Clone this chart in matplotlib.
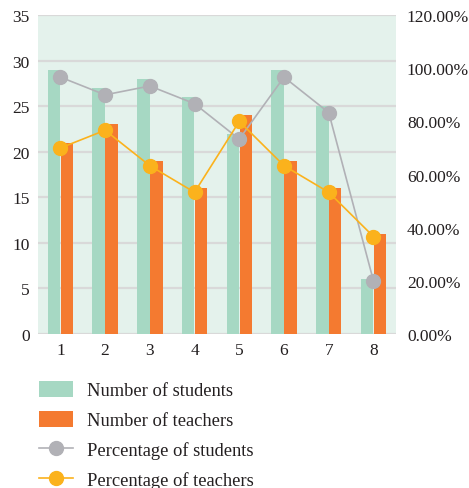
import numpy as np
import matplotlib.pyplot as plt
from matplotlib.ticker import FuncFormatter

plt.rcParams['font.family'] = ['Liberation Serif', 'DejaVu Serif']

categories = ['1', '2', '3', '4', '5', '6', '7', '8']
students = [29, 27, 28, 26, 22, 29, 25, 6]
teachers = [21, 23, 19, 16, 24, 19, 16, 11]
pct_students = [96.67, 90.00, 93.33, 86.67, 73.33, 96.67, 83.33, 20.00]
pct_teachers = [70.00, 76.67, 63.33, 53.33, 80.00, 63.33, 53.33, 36.67]

c_stud = '#a6d8c3'
c_teach = '#f47a30'
c_pstud = '#b1b1b6'
c_pteach = '#fbb21c'
grid_c = '#d9d9d9'
text_c = '#231f20'

fig = plt.figure(figsize=(4.69, 4.89), dpi=100)
ax = fig.add_axes([0.081, 0.315, 0.763, 0.652])
ax.set_facecolor('#e4f2ec')

x = np.arange(len(categories))
w = 0.28
b1 = ax.bar(x - 0.145, students, w, color=c_stud, zorder=2, label='Number of students')
b2 = ax.bar(x + 0.145, teachers, w, color=c_teach, zorder=2, label='Number of teachers')

ax.set_xlim(-0.5, len(categories) - 0.5)
ax.set_ylim(0, 35)
ax.set_yticks(np.arange(0, 36, 5))
ax.set_xticks(x)
ax.set_xticklabels(categories)
ax.yaxis.grid(True, color=grid_c, linewidth=1.6, zorder=1)
ax.set_axisbelow(True)
for s in ax.spines.values():
    s.set_visible(False)
ax.tick_params(length=0, labelsize=12.5, colors=text_c, pad=6)

ax2 = ax.twinx()
l1, = ax2.plot(x, pct_students, color=c_pstud, lw=1.2, marker='o',
               markersize=10, zorder=3, label='Percentage of students')
l2, = ax2.plot(x, pct_teachers, color=c_pteach, lw=1.2, marker='o',
               markersize=10, zorder=3, label='Percentage of teachers')
ax2.set_ylim(0, 120)
ax2.set_yticks(np.arange(0, 121, 20))
ax2.yaxis.set_major_formatter(FuncFormatter(lambda v, p: f'{v:.2f}%'))
for s in ax2.spines.values():
    s.set_visible(False)
ax2.tick_params(length=0, labelsize=12.5, colors=text_c, pad=8)

leg = fig.legend(handles=[b1, b2, l1, l2], loc='upper left',
                 bbox_to_anchor=(0.083, 0.218), frameon=False, borderpad=0,
                 fontsize=13.3, handlelength=1.85, handleheight=0.9,
                 labelspacing=0.64, handletextpad=0.75, borderaxespad=0)
for t in leg.get_texts():
    t.set_color(text_c)

fig.savefig('out.png', dpi=100)
